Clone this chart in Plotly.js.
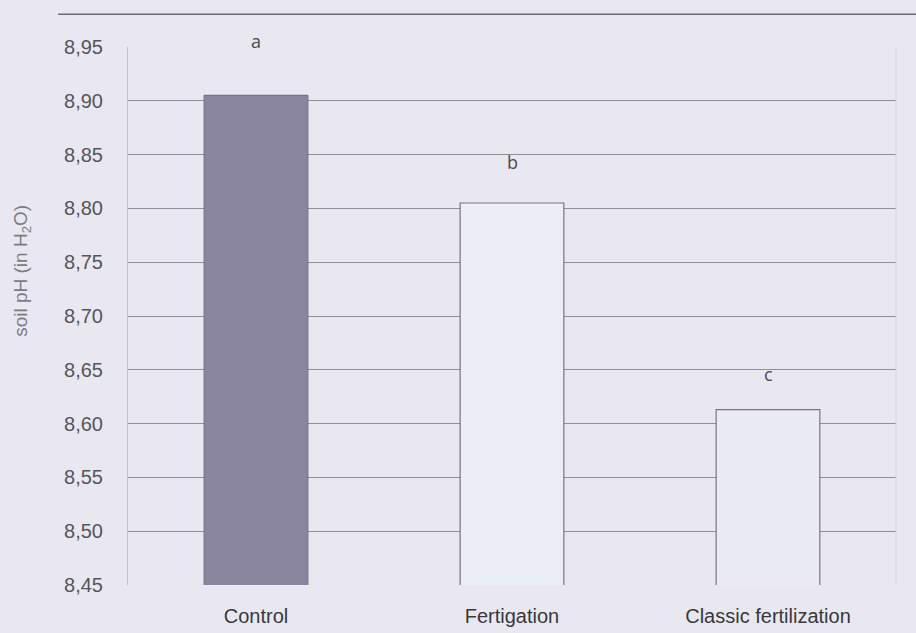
<!DOCTYPE html>
<html>
<head>
<meta charset="utf-8">
<script src="https://cdn.plot.ly/plotly-3.0.1.min.js"></script>
<style>html,body{margin:0;padding:0;background:#e9e8f0;}</style>
</head>
<body>
<div id="chart" style="width:916px;height:633px;"></div>
<script>
const categories = ["Control", "Fertigation", "Classic fertilization"];
const phValues = [8.905, 8.805, 8.613];
const letters = ["a", "b", "c"];
const letterShift = [54, 41, 36];
const barColors = ["#8a86a0", "#eceef6", "#eaebf4"];
const yTicks = [8.45, 8.50, 8.55, 8.60, 8.65, 8.70, 8.75, 8.80, 8.85, 8.90, 8.95];

const trace = {
  type: "bar",
  x: categories,
  y: phValues,
  width: 0.405,
  marker: {color: barColors, line: {color: "#77767f", width: 1.2}},
  hoverinfo: "x+y"
};

const annotations = categories.map((c, i) => ({
  x: c, y: phValues[i], xref: "x", yref: "y",
  text: letters[i], showarrow: false, yanchor: "middle", yshift: letterShift[i],
  font: {family: "Open Sans, Liberation Sans, sans-serif", size: 18, color: "#4a4a50"}
}));
annotations.push({
  xref: "paper", yref: "paper", x: -0.138, y: 0.584, textangle: -90,
  text: "soil pH (in H<sub>2</sub>O)", showarrow: false,
  xanchor: "center", yanchor: "middle",
  font: {family: "Liberation Sans, Arial, sans-serif", size: 19, color: "#7c7b86"}
});

const layout = {
  width: 916, height: 633,
  margin: {l: 128, r: 20, t: 47, b: 48},
  paper_bgcolor: "#e9e8f0",
  plot_bgcolor: "#e9e8f0",
  separators: ", ",
  showlegend: false,
  xaxis: {
    range: [-0.5, 2.5],
    showgrid: false, zeroline: false,
    showline: false,
    ticks: "outside", ticklen: 13, tickcolor: "rgba(0,0,0,0)",
    tickfont: {family: "Liberation Sans, Arial, sans-serif", size: 20, color: "#38383e"}
  },
  yaxis: {
    range: [8.45, 8.95],
    tickvals: yTicks,
    tickformat: ".2f",
    showgrid: true, gridcolor: "#8f8f98", gridwidth: 1,
    zeroline: false,
    showline: true, linecolor: "#c4c3cc", linewidth: 1,
    ticks: "outside", ticklen: 20, tickcolor: "rgba(0,0,0,0)",
    tickfont: {family: "Liberation Sans, Arial, sans-serif", size: 20, color: "#55555c"}
  },
  shapes: [
    {type: "line", xref: "paper", yref: "paper", x0: -0.091, x1: 1.03, y0: 1.061, y1: 1.061,
     line: {color: "#6a6a72", width: 1.5}},
    {type: "line", xref: "paper", yref: "paper", x0: 1, x1: 1, y0: 0, y1: 1,
     line: {color: "#d0cfd8", width: 1}}
  ],
  annotations: annotations
};

Plotly.newPlot("chart", [trace], layout, {displayModeBar: false, staticPlot: true});
</script>
</body>
</html>
